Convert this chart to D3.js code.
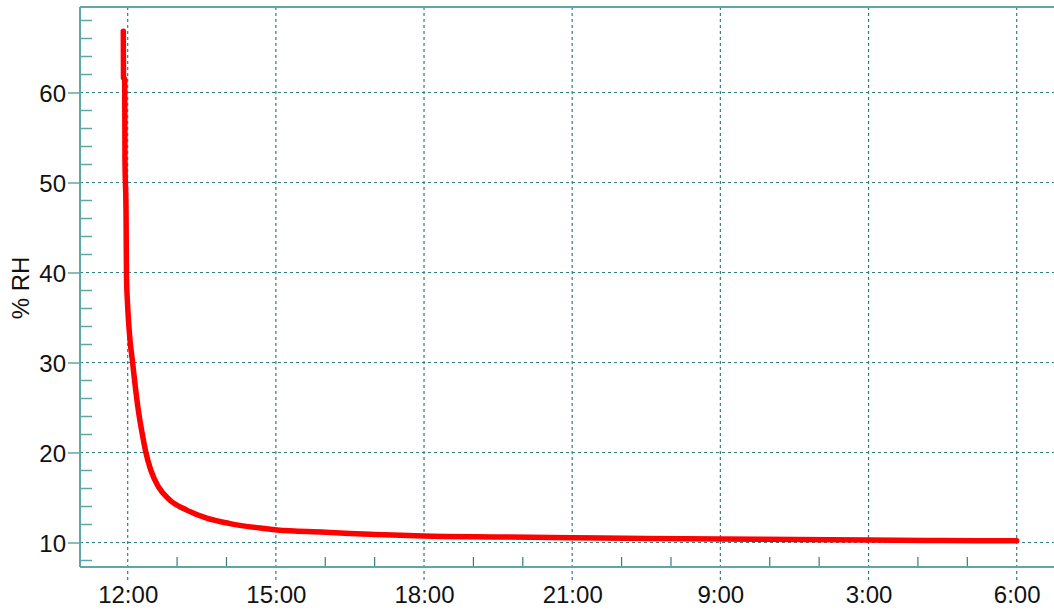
<!DOCTYPE html>
<html>
<head>
<meta charset="utf-8">
<script src="https://cdn.jsdelivr.net/npm/d3@7"></script>
<style>
html,body{margin:0;padding:0;background:#fff;}
svg{display:block;font-family:"Liberation Sans",Arial,sans-serif;}
</style>
</head>
<body>
<svg id="chart" width="1054" height="610"></svg>
<script>
// hours since 12:00
const hours = [-0.089,-0.085,-0.061,-0.055,-0.034,-0.024,-0.004,0.016,0.05,0.093,0.148,0.215,0.304,0.364,0.466,0.62,0.856,1.195,1.6,2.07,2.68,3.02,4.0,4.5,5.0,6.0,7.5,9.0,10.5,12.0,13.5,15.0,16.5,18.0];
const rh    = [66.8,61.6,61.5,52.5,46.7,39.5,36.6,34.7,32.3,30.3,27.6,24.7,21.8,20.1,18.06,16.2,14.7,13.6,12.7,12.1,11.6,11.4,11.15,11.0,10.9,10.72,10.62,10.53,10.45,10.4,10.33,10.28,10.22,10.2];
const xTickHours = [0,3,6,9,12,15,18];
const xTickLabels = ["12:00","15:00","18:00","21:00","9:00","3:00","6:00"];
const yMajor = [10,20,30,40,50,60];
const yMinor = [8,12,14,16,18,22,24,26,28,32,34,36,38,42,44,46,48,52,54,56,58,62,64,66,68];
const xMinor = [1,2,4,5,7,8,10,11,13,14,16,17];

const svg = d3.select("#chart");
const pLeft = 80, pRight = 1054, pTop = 7, pBottom = 567;
const x = d3.scaleLinear().domain([0,18]).range([127.7,1016.7]);
const y = d3.scaleLinear().domain([10,60]).range([542.5,92.5]);
const axisCol = "#5fa6a6", gridCol = "#2f7f80";
const fontFam = "Liberation Sans, Arial, sans-serif";

// horizontal grid
svg.append("g").selectAll("line").data(yMajor).join("line")
  .attr("x1",pLeft).attr("x2",pRight).attr("y1",d=>y(d)).attr("y2",d=>y(d))
  .attr("stroke",gridCol).attr("stroke-width",1.2).attr("stroke-dasharray","3,3");
// vertical grid
svg.append("g").selectAll("line").data(xTickHours).join("line")
  .attr("x1",d=>x(d)).attr("x2",d=>x(d)).attr("y1",pTop).attr("y2",582)
  .attr("stroke",gridCol).attr("stroke-width",1.2).attr("stroke-dasharray","3,3");

// y axis major ticks via d3 axis
const yAxis = svg.append("g").attr("transform",`translate(${pLeft},0)`)
  .call(d3.axisLeft(y).tickValues(yMajor).tickSize(12).tickPadding(3).tickFormat(d3.format("d")));
yAxis.select(".domain").remove();
yAxis.selectAll(".tick line").attr("stroke",axisCol).attr("stroke-width",1.5);
yAxis.selectAll(".tick text").attr("font-size",24).attr("fill","#111").attr("font-family",fontFam).attr("dy","0.36em").attr("x",-14);

// y minor ticks
svg.append("g").selectAll("line").data(yMinor).join("line")
  .attr("x1",pLeft).attr("x2",pLeft+12).attr("y1",d=>y(d)).attr("y2",d=>y(d))
  .attr("stroke",axisCol).attr("stroke-width",1.5);

// x minor ticks
svg.append("g").selectAll("line").data(xMinor).join("line")
  .attr("x1",d=>x(d)).attr("x2",d=>x(d)).attr("y1",pBottom).attr("y2",pBottom-10)
  .attr("stroke",gridCol).attr("stroke-width",1.2);

// x labels
const xAxis = svg.append("g").attr("transform",`translate(0,${pBottom})`)
  .call(d3.axisBottom(x).tickValues(xTickHours).tickSize(0).tickPadding(0).tickFormat((d,i)=>xTickLabels[i]));
xAxis.select(".domain").remove();
xAxis.selectAll(".tick text").attr("font-size",24).attr("fill","#111").attr("font-family",fontFam).attr("dy",0).attr("y",36);

// frame lines
svg.append("line").attr("x1",pLeft).attr("x2",pLeft).attr("y1",pTop).attr("y2",pBottom).attr("stroke",axisCol).attr("stroke-width",2);
svg.append("line").attr("x1",pLeft).attr("x2",pRight).attr("y1",pBottom).attr("y2",pBottom).attr("stroke",axisCol).attr("stroke-width",2);
svg.append("line").attr("x1",pLeft).attr("x2",pRight).attr("y1",pTop).attr("y2",pTop).attr("stroke",axisCol).attr("stroke-width",2);

// y label
svg.append("text").attr("transform","translate(29,288) rotate(-90)")
  .attr("text-anchor","middle").attr("font-size",24).attr("fill","#111").attr("font-family",fontFam).text("% RH");

// data line
const line = d3.line().x((d,i)=>x(hours[i])).y(d=>y(d)).curve(d3.curveMonotoneX);
svg.append("path").datum(rh).attr("d",line)
  .attr("fill","none").attr("stroke","#ff0000").attr("stroke-width",5.5)
  .attr("stroke-linejoin","round").attr("stroke-linecap","round");
</script>
</body>
</html>
